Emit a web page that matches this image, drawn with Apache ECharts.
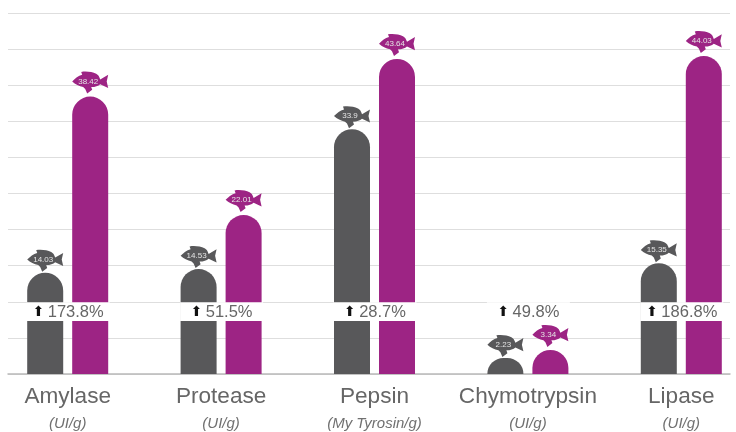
<!DOCTYPE html>
<html><head><meta charset="utf-8">
<style>html,body{margin:0;padding:0;background:#fff}#c{width:736px;height:432px}</style>
<script src="https://cdn.jsdelivr.net/npm/echarts@6/dist/echarts.min.js"></script>
</head><body><div id="c"></div>
<script>
const categories = ['Amylase','Protease','Pepsin','Chymotrypsin','Lipase'];
const units = ['(UI/g)','(UI/g)','(My Tyrosin/g)','(UI/g)','(UI/g)'];
const control = [14.03,14.53,33.9,2.23,15.35];
const treated = [38.42,22.01,43.64,3.34,44.03];
const increase = ['173.8%','51.5%','28.7%','49.8%','186.8%'];
const GRAY='#58585a', PURPLE='#9d2484';
const BAND_TOP=10, BAND_BOTTOM=7.4;
const fish='path://M0,11 C3,8 6,5 10,4 L9,1 C14,0 20,1 24,3 C26,4 27,6 28,9 L36,4 L34.5,11 L36,18 L28,14 C26,16 23,17 19,17 L20,20 L15,24 L13,19 L11,17 C7,16 3,14 0,11 Z';
const fishSeries=(vals,color,dx,dy,name)=>({
  type:'scatter',name,xAxisIndex:1,yAxisIndex:1,z:5,
  symbol:fish,symbolSize:[36,22],symbolKeepAspect:false,symbolOffset:[dx,dy],
  itemStyle:{color,opacity:1},
  data:vals.map((v,i)=>[i,v]),
  label:{show:true,position:'inside',offset:[-2,-1],formatter:p=>String(p.value[1]),
    fontSize:8,color:'#e4e4e4',fontFamily:'Liberation Sans'},
  silent:true,animation:false
});
const chart=echarts.init(document.getElementById('c'),null,{renderer:'canvas'});
chart.setOption({
  animation:false,
  grid:[{left:8,width:722,top:13,height:361,outerBoundsMode:'none'},{left:-9,width:767,top:13,height:361,outerBoundsMode:'none'}],
  xAxis:[
    {gridIndex:0,type:'value',min:0,max:1,axisLine:{show:true,onZero:false,lineStyle:{color:'#b9b9b9',width:1.5}},axisTick:{show:false},axisLabel:{show:false},splitLine:{show:false}},
    {gridIndex:1,type:'category',data:categories,axisLine:{show:false},axisTick:{show:false},
     axisLabel:{interval:0,margin:9,
       formatter:(v,i)=>`{n|${v}}\n{u|${units[i]}}`,
       rich:{n:{fontFamily:'Liberation Sans',fontSize:22.6,color:'#666666',height:27,lineHeight:27},
             u:{fontFamily:'Liberation Sans',fontSize:15,fontStyle:'italic',color:'#707070',height:27,lineHeight:27}}}}
  ],
  yAxis:[
    {gridIndex:0,type:'value',min:0,max:50,interval:5,axisLine:{show:false},axisTick:{show:false},axisLabel:{show:false},splitLine:{show:true,lineStyle:{color:'#dedede',width:1}}},
    {gridIndex:1,type:'value',min:0,max:50,interval:5,show:false}
  ],
  series:[
    {type:'bar',name:'control',xAxisIndex:1,yAxisIndex:1,data:control,barWidth:36,barGap:'25%',itemStyle:{color:GRAY,borderRadius:[18,18,0,0]},z:3},
    {type:'bar',name:'treated',xAxisIndex:1,yAxisIndex:1,data:treated,barWidth:36,itemStyle:{color:PURPLE,borderRadius:[18,18,0,0]},z:3},
    fishSeries(control,GRAY,-22.5,-12,'fishControl'),
    fishSeries(treated,PURPLE,22.5,-14,'fishTreated'),
    {type:'custom',name:'increase',xAxisIndex:1,yAxisIndex:1,z:4,silent:true,
     data:increase.map((t,i)=>[i,t]),
     renderItem:(params,api)=>{
       const i=api.value(0);
       const a=api.coord([i,BAND_TOP]), b=api.coord([i,BAND_BOTTOM]);
       return {type:'group',children:[
         {type:'rect',shape:{x:a[0]-41,y:a[1]+0.5,width:83,height:b[1]-a[1]},style:{fill:'#fff'}},
         {type:'text',style:{x:a[0]+0.5,y:(a[1]+b[1])/2+1,align:'center',verticalAlign:'middle',
           text:'{a|⬆} {t|'+increase[i]+'}',
           rich:{a:{fontFamily:'DejaVu Sans',fontSize:14,fill:'#111',color:'#111'},
                 t:{fontFamily:'Liberation Sans',fontSize:16.5,fill:'#666666',color:'#666666'}}}}
       ]};
     }}
  ]
});
</script></body></html>
